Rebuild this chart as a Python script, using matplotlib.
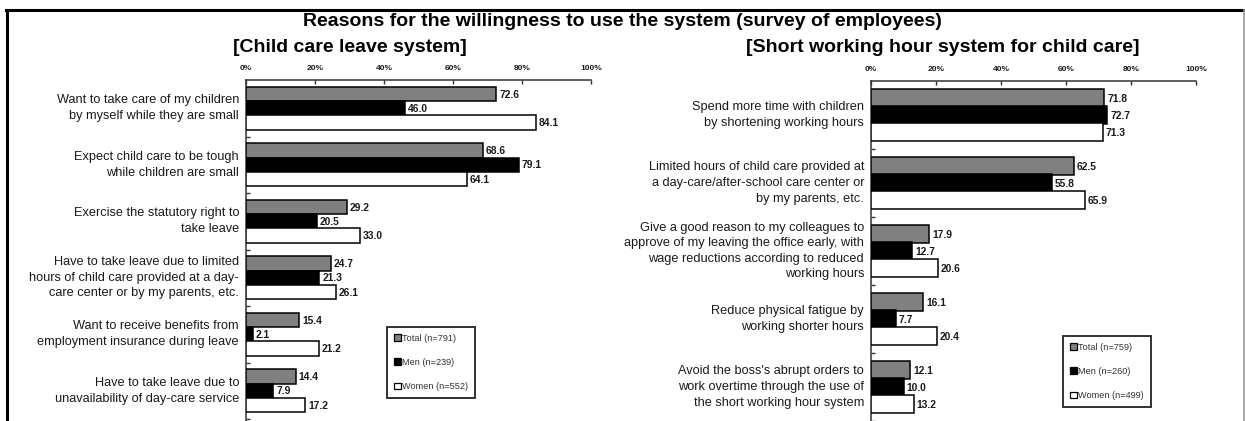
import matplotlib
matplotlib.use("Agg")
import matplotlib.pyplot as plt
from matplotlib.patches import Patch
from matplotlib.lines import Line2D

# ---- data -------------------------------------------------------------
leave_reasons = [
    "Want to take care of my children\nby myself while they are small",
    "Expect child care to be tough\nwhile children are small",
    "Exercise the statutory right to\ntake leave",
    "Have to take leave due to limited\nhours of child care provided at a day-\ncare center or by my parents, etc.",
    "Want to receive benefits from\nemployment insurance during leave",
    "Have to take leave due to\nunavailability of day-care service",
]
leave_total = [72.6, 68.6, 29.2, 24.7, 15.4, 14.4]
leave_men = [46.0, 79.1, 20.5, 21.3, 2.1, 7.9]
leave_women = [84.1, 64.1, 33.0, 26.1, 21.2, 17.2]
leave_legend = ["Total (n=791)", "Men (n=239)", "Women (n=552)"]

short_reasons = [
    "Spend more time with children\nby shortening working hours",
    "Limited hours of child care provided at\na day-care/after-school care center or\nby my parents, etc.",
    "Give a good reason to my colleagues to\napprove of my leaving the office early, with\nwage reductions according to reduced\nworking hours",
    "Reduce physical fatigue by\nworking shorter hours",
    "Avoid the boss's abrupt orders to\nwork overtime through the use of\nthe short working hour system",
]
short_total = [71.8, 62.5, 17.9, 16.1, 12.1]
short_men = [72.7, 55.8, 12.7, 7.7, 10.0]
short_women = [71.3, 65.9, 20.6, 20.4, 13.2]
short_legend = ["Total (n=759)", "Men (n=260)", "Women (n=499)"]

x_ticks = [0, 20, 40, 60, 80, 100]
x_tick_labels = ["0%", "20%", "40%", "60%", "80%", "100%"]

main_title = "Reasons for the willingness to use the system (survey of employees)"
left_title = "[Child care leave system]"
right_title = "[Short working hour system for child care]"

# ---- style ------------------------------------------------------------
W, H = 1245, 421
FACES = ["#808080", "#000000", "#ffffff"]
SANS = ["Liberation Sans", "DejaVu Sans"]
NARROW = ["Liberation Sans Narrow", "Liberation Sans", "DejaVu Sans"]
TEXT_C = "#1a1a1a"

fig = plt.figure(figsize=(W / 100, H / 100), dpi=100)


def px_rect(x0, y_top, w, h):
    return [x0 / W, 1 - (y_top + h) / H, w / W, h / H]


def draw_panel(rect, reasons, series, legend_labels, slots, legend_xy):
    ax = fig.add_axes(rect)
    n = len(reasons)
    offsets = [-0.25, 0.0, 0.25]
    bar_h = 0.255
    for vals, off, face in zip(series, offsets, FACES):
        ys = [i + off for i in range(n)]
        ax.barh(ys, vals, height=bar_h, color=face, edgecolor="black",
                linewidth=1.1, zorder=3)
        for y, v in zip(ys, vals):
            ax.annotate(f"{v:.1f}", (v, y), xytext=(2, -0.5),
                        textcoords="offset points", va="center", ha="left",
                        fontsize=7.4, fontweight="bold", family=NARROW,
                        color=TEXT_C, zorder=4)
    ax.set_xlim(0, 100)
    ax.set_ylim(slots - 0.5, -0.5)
    ax.set_yticks([i + 0.5 for i in range(slots)])
    ax.set_yticklabels([])
    ax.tick_params(axis="y", direction="in", length=3, width=1, color="#333333")
    ax.xaxis.tick_top()
    ax.set_xticks(x_ticks)
    ax.set_xticklabels(x_tick_labels, fontsize=6, fontweight="bold",
                       family=NARROW, color=TEXT_C)
    ax.tick_params(axis="x", direction="in", length=3, width=1,
                   color="#333333", pad=6)
    for side in ("right", "bottom"):
        ax.spines[side].set_visible(False)
    for side in ("top", "left"):
        ax.spines[side].set_linewidth(1.1)
        ax.spines[side].set_color("#333333")
    ax.patch.set_visible(False)
    for i, lab in enumerate(reasons):
        ax.annotate(lab, (0, i), xytext=(-5, 0), textcoords="offset points",
                    ha="right", va="center", fontsize=9.2, family=SANS,
                    color=TEXT_C, linespacing=1.4, annotation_clip=False)
    handles = [Patch(facecolor=f, edgecolor="black", linewidth=0.9) for f in FACES]
    leg = fig.legend(handles, legend_labels, loc="upper left",
                     bbox_to_anchor=(legend_xy[0] / W, 1 - legend_xy[1] / H),
                     prop={"family": SANS, "size": 6.6}, frameon=True,
                     fancybox=False, shadow=False, handlelength=0.75,
                     handleheight=0.75, handletextpad=0.15, labelspacing=1.65,
                     borderpad=0.75, borderaxespad=0, framealpha=1)
    leg.get_frame().set_edgecolor("#222222")
    leg.get_frame().set_linewidth(1.3)
    for t in leg.get_texts():
        t.set_color("#333333")
    return ax


draw_panel(px_rect(246, 80, 345, 56.5 * 7), leave_reasons,
           [leave_total, leave_men, leave_women], leave_legend, 7, (387, 327))
draw_panel(px_rect(871, 81, 325, 68 * 6), short_reasons,
           [short_total, short_men, short_women], short_legend, 6, (1063, 336))

# ---- titles -----------------------------------------------------------
fig.text(622 / W, 1 - 26 / H, main_title, ha="center", va="baseline",
         fontsize=14, fontweight="bold", family=SANS, color="black")
fig.text(350 / W, 1 - 52 / H, left_title, ha="center", va="baseline",
         fontsize=14, fontweight="bold", family=SANS, color="black")
fig.text(943 / W, 1 - 52 / H, right_title, ha="center", va="baseline",
         fontsize=14, fontweight="bold", family=SANS, color="black")

# ---- outer frame ------------------------------------------------------
fig.add_artist(Line2D([6 / W, 1243.5 / W], [1 - 10 / H, 1 - 10 / H],
                      color="black", linewidth=2.2, transform=fig.transFigure))
fig.add_artist(Line2D([6.5 / W, 6.5 / W], [1 - 10 / H, 0],
                      color="black", linewidth=2.2, transform=fig.transFigure))
fig.add_artist(Line2D([1243.5 / W, 1243.5 / W], [1 - 10 / H, 0],
                      color="#9a9a9a", linewidth=1.2, transform=fig.transFigure))

fig.savefig("out.png", dpi=100)
